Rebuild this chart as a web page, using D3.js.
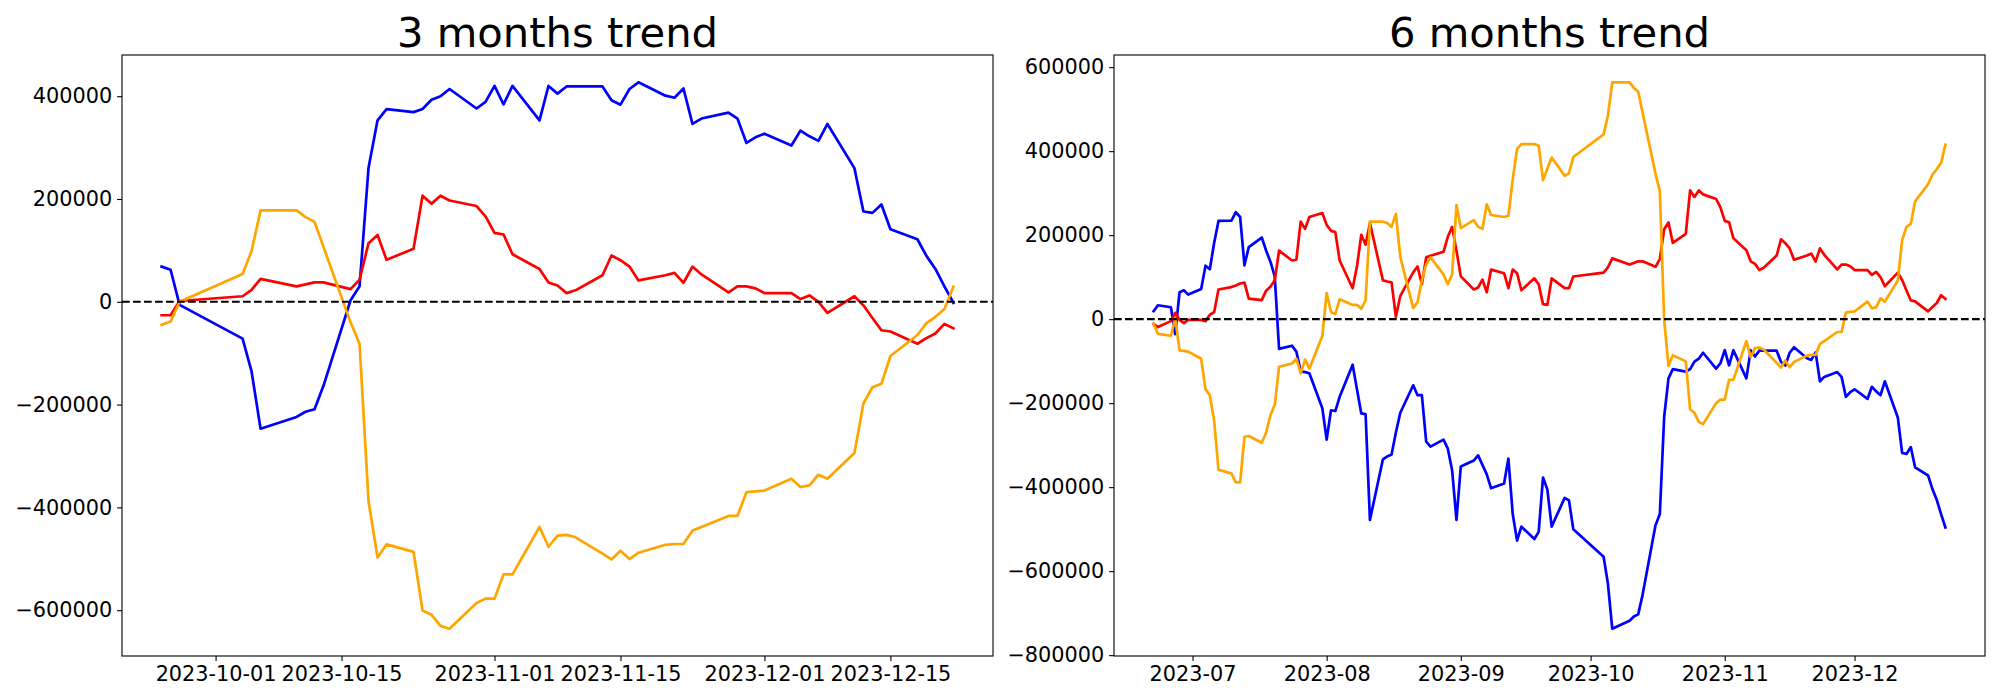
<!DOCTYPE html>
<html>
<head>
<meta charset="utf-8">
<script src="https://cdn.jsdelivr.net/npm/d3@7"></script>
<style>
  html, body { margin: 0; padding: 0; background: #fff; }
  svg { display: block; }
</style>
</head>
<body>
<svg id="chart" width="2000" height="700"></svg>
<script>
// ---------------- DATA ----------------
const titles = ["3 months trend", "6 months trend"];
const seriesColors = ["blue", "red", "orange"];

const dates3m = [
"2023-09-25","2023-09-26","2023-09-27","2023-10-04","2023-10-05","2023-10-06",
"2023-10-10","2023-10-11","2023-10-12","2023-10-13",
"2023-10-16","2023-10-17","2023-10-18","2023-10-19","2023-10-20",
"2023-10-23","2023-10-24","2023-10-25","2023-10-26","2023-10-27",
"2023-10-30","2023-10-31","2023-11-01","2023-11-02","2023-11-03",
"2023-11-06","2023-11-07","2023-11-08","2023-11-09","2023-11-10",
"2023-11-13","2023-11-14","2023-11-15","2023-11-16","2023-11-17",
"2023-11-20","2023-11-21","2023-11-22","2023-11-23","2023-11-24",
"2023-11-27","2023-11-28","2023-11-29","2023-11-30","2023-12-01",
"2023-12-04","2023-12-05","2023-12-06","2023-12-07","2023-12-08",
"2023-12-11","2023-12-12","2023-12-13","2023-12-14","2023-12-15",
"2023-12-18","2023-12-19","2023-12-20","2023-12-21","2023-12-22"
];
const blue3m = [68500,62400,-6000,-71600,-135500,-247000,-224000,-214000,-209000,-163000,
3000,30000,261000,353000,375000,369000,375000,393000,400000,414000,
376000,389000,420000,384000,420000,353000,420000,405000,419000,419000,
419000,392000,383500,414000,427000,401000,397000,415000,346000,356500,
368000,356500,309000,320000,327000,304000,333000,322000,313000,346000,
260000,175600,173000,189400,141000,121700,89300,63900,30000,-2000];
const red3m = [-26200,-26200,1500,10800,23100,44700,30000,33900,37700,37700,
24600,43100,114000,130100,81600,103200,206400,191000,206400,197100,
186300,166300,134000,130900,92400,63900,37700,31600,16900,22300,
51600,90100,80900,68500,41600,51600,56200,37000,68500,53100,
18500,30000,30000,26200,16900,16900,5400,12300,0,-21600,
10800,-6900,-31600,-55400,-57800,-81600,-70800,-61600,-43100,-51600];
const orange3m = [-44700,-38500,0,53900,98600,177900,177900,164800,155500,106300,
-40000,-81600,-388000,-497400,-472000,-486600,-600600,-609000,-630600,-636000,
-586000,-577500,-577500,-530500,-530500,-438100,-476600,-455100,-453500,-458200,
-490000,-501300,-484300,-500500,-488200,-472800,-471200,-471200,-445100,-438100,
-416600,-416600,-370400,-368800,-367300,-344200,-360400,-357300,-336500,-344200,
-294100,-197900,-166300,-159400,-105500,-64700,-41600,-29300,-13900,29300];

const datesEarly6m = [
"2023-06-22","2023-06-23","2023-06-26","2023-06-27","2023-06-28","2023-06-29","2023-06-30",
"2023-07-03","2023-07-04","2023-07-05","2023-07-06","2023-07-07",
"2023-07-10","2023-07-11","2023-07-12","2023-07-13","2023-07-14",
"2023-07-17","2023-07-18","2023-07-19","2023-07-20","2023-07-21",
"2023-07-24","2023-07-25","2023-07-26","2023-07-27","2023-07-28",
"2023-07-31","2023-08-01","2023-08-02","2023-08-03","2023-08-04",
"2023-08-07","2023-08-08","2023-08-09","2023-08-10","2023-08-11",
"2023-08-14","2023-08-15","2023-08-16","2023-08-17","2023-08-18",
"2023-08-21","2023-08-22","2023-08-23","2023-08-24","2023-08-25",
"2023-08-28","2023-08-29","2023-08-30","2023-08-31","2023-09-01",
"2023-09-04","2023-09-05","2023-09-06","2023-09-07","2023-09-08",
"2023-09-11","2023-09-12","2023-09-13","2023-09-14","2023-09-15",
"2023-09-18","2023-09-19","2023-09-20","2023-09-21","2023-09-22"
];
const dates6m = datesEarly6m.concat(dates3m);
const blue6m = [18900,33000,28300,-35800,64100,68800,58500,
71700,127300,118800,182000,233900,
234800,254600,243300,128200,171600,
194300,163500,136700,101800,-70700,
-63200,-77300,-124500,-126000,-129000,
-212200,-286700,-216900,-218800,-185000,
-108400,-167000,-224400,-226300,-478100,
-333800,-327000,-322500,-270000,-223500,
-157500,-181100,-181100,-291400,-303600,
-286700,-308400,-360200,-478100,-350800,
-336700,-324400,-347000,-369700,-402700,
-391300,-331900,-464000,-527100,-494100,
-523400,-506400,-377200,-405500,-494100,
-425500,-431600,-500000,-565600,-629500,-737000,-718000,-708000,-703000,-657000,
-491000,-464000,-233000,-141000,-119000,-125000,-119000,-101000,-94000,-80000,
-118000,-105000,-74000,-110000,-74000,-141000,-74000,-89000,-75000,-75000,
-75000,-102000,-110500,-80000,-67000,-93000,-97000,-79000,-148000,-137500,
-126000,-137500,-185000,-174000,-167000,-190000,-161000,-172000,-181000,-148000,
-234000,-318400,-321000,-304600,-353000,-372300,-404700,-430100,-464000,-496000];
const red6m = [-11300,-18900,-4700,15100,-1900,-9400,-1900,
-1900,-4700,10400,17000,70700,
76400,80200,84900,86800,49000,
45300,67900,77300,92400,163100,
139600,141500,232000,215000,243300,
252700,224400,210300,207500,139600,
73600,125400,200900,177300,229100,
92400,89600,87700,5700,54700,
111300,125400,83000,147100,150900,
160300,196100,219700,163100,101800,
70700,75400,94300,64100,117900,
109400,73600,117900,109400,68800,
97100,83000,35800,33900,97100,
73800,73800,101500,110800,123100,144700,130000,133900,137700,137700,
124600,143100,214000,230100,181600,203200,306400,291000,306400,297100,
286300,266300,234000,230900,192400,163900,137700,131600,116900,122300,
151600,190100,180900,168500,141600,151600,156200,137000,168500,153100,
118500,130000,130000,126200,116900,116900,105400,112300,100000,78400,
110800,93100,68400,44600,42200,18400,29200,38400,56900,48400];
const orange6m = [-11300,-34900,-39600,1900,-74500,-75400,-77300,
-94300,-166900,-181100,-242400,-358300,
-367800,-388500,-388500,-280100,-278200,
-294200,-270600,-228200,-204600,-113200,
-105600,-94300,-129200,-96200,-117900,
-39600,62200,17000,12300,47200,
33900,33900,24500,45300,232000,
232000,229100,219700,250800,149000,
26400,40500,92400,130100,147100,
106600,83000,106600,271600,216900,
235800,219700,215000,273500,248000,
243300,246100,332900,405500,416800,
416800,413000,331000,358300,384700,
341300,347500,386000,439900,484600,563900,563900,550800,541500,492300,
346000,304400,-2000,-111400,-86000,-100600,-214600,-223000,-244600,-250000,
-200000,-191500,-191500,-144500,-144500,-52100,-90600,-69100,-67500,-72200,
-104000,-115300,-98300,-114500,-102200,-86800,-85200,-85200,-59100,-52100,
-30600,-30600,15600,17200,18700,41800,25600,28700,49500,41800,
91900,188100,219700,226600,280500,321300,344400,356700,372100,415300];

const xTicks3m = ["2023-10-01","2023-10-15","2023-11-01","2023-11-15","2023-12-01","2023-12-15"];
const xTicks6m = ["2023-07-01","2023-08-01","2023-09-01","2023-10-01","2023-11-01","2023-12-01"];
const yTicks3m = [-600000,-400000,-200000,0,200000,400000];
const yTicks6m = [-800000,-600000,-400000,-200000,0,200000,400000,600000];

// ---------------- DRAW ----------------
const parse = d3.utcParse("%Y-%m-%d");
const svg = d3.select("#chart");
svg.append("rect").attr("width", 2000).attr("height", 700).attr("fill", "#fff");

const FONT = "DejaVu Sans";
const TICK_FS = 20.8;
const TITLE_FS = 41.7;
const LW = 2.7;
const DASH_LW = 2.08;
const TOP = 55, BOTTOM = 656;

const panels = [
  { title: titles[0], x0: 122, x1: 993, dates: dates3m, series: [blue3m, red3m, orange3m],
    xTicks: xTicks3m, xFmt: d3.utcFormat("%Y-%m-%d"), yTicks: yTicks3m },
  { title: titles[1], x0: 1114, x1: 1985, dates: dates6m, series: [blue6m, red6m, orange6m],
    xTicks: xTicks6m, xFmt: d3.utcFormat("%Y-%m"), yTicks: yTicks6m }
];

const minus = v => (v < 0 ? "\u2212" + Math.abs(v) : String(v));

panels.forEach((p, i) => {
  const dts = p.dates.map(parse);
  const t0 = d3.min(dts).getTime(), t1 = d3.max(dts).getTime();
  const tp = (t1 - t0) * 0.05;
  const x = d3.scaleUtc().domain([new Date(t0 - tp), new Date(t1 + tp)]).range([p.x0, p.x1]);

  const allVals = p.series.flat();
  const vmin = d3.min(allVals), vmax = d3.max(allVals);
  const vp = (vmax - vmin) * 0.05;
  const y = d3.scaleLinear().domain([vmin - vp, vmax + vp]).range([BOTTOM, TOP]);

  const g = svg.append("g");
  const clipId = "clip" + i;
  g.append("clipPath").attr("id", clipId).append("rect")
    .attr("x", p.x0).attr("y", TOP).attr("width", p.x1 - p.x0).attr("height", BOTTOM - TOP);

  const plot = g.append("g").attr("clip-path", `url(#${clipId})`);
  const line = d3.line().x((d, k) => x(dts[k])).y(d => y(d));
  p.series.forEach((s, k) => {
    plot.append("path").datum(s)
      .attr("d", line)
      .attr("fill", "none")
      .attr("stroke", seriesColors[k])
      .attr("stroke-width", LW)
      .attr("stroke-linejoin", "round")
      .attr("stroke-linecap", "square");
  });
  plot.append("line")
    .attr("x1", p.x0).attr("x2", p.x1)
    .attr("y1", y(0)).attr("y2", y(0))
    .attr("stroke", "black").attr("stroke-width", DASH_LW)
    .attr("stroke-dasharray", "7.7,3.3");

  // axes
  const xAxis = d3.axisBottom(x).tickValues(p.xTicks.map(parse)).tickFormat(p.xFmt)
    .tickSize(4.9).tickPadding(4.9);
  const gx = g.append("g").attr("transform", `translate(0,${BOTTOM})`).call(xAxis);
  const yAxis = d3.axisLeft(y).tickValues(p.yTicks).tickFormat(minus)
    .tickSize(4.9).tickPadding(4.9);
  const gy = g.append("g").attr("transform", `translate(${p.x0},0)`).call(yAxis);
  [gx, gy].forEach(a => {
    a.select(".domain").remove();
    a.selectAll(".tick line").attr("stroke", "black").attr("stroke-width", 1.1);
    a.selectAll(".tick text").attr("fill", "black")
      .style("font-family", FONT).style("font-size", TICK_FS + "px");
  });

  // frame
  g.append("rect")
    .attr("x", p.x0).attr("y", TOP)
    .attr("width", p.x1 - p.x0).attr("height", BOTTOM - TOP)
    .attr("fill", "none").attr("stroke", "black").attr("stroke-width", 1.1);

  // title
  g.append("text")
    .attr("x", (p.x0 + p.x1) / 2).attr("y", 47)
    .attr("text-anchor", "middle")
    .style("font-family", FONT).style("font-size", TITLE_FS + "px")
    .attr("fill", "black")
    .text(p.title);
});
</script>
</body>
</html>
